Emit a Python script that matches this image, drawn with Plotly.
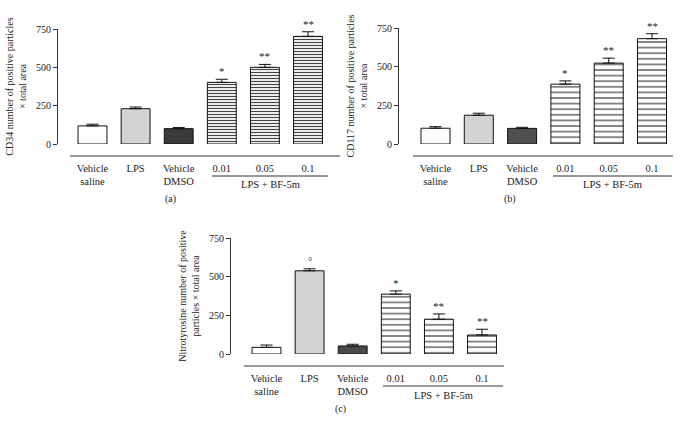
import plotly.graph_objects as go

W, H = 680, 428

# ---- data ----
categories = ["Vehicle<br>saline", "LPS", "Vehicle<br>DMSO", "0.01", "0.05", "0.1"]
cd34 = [118, 230, 100, 402, 500, 702]
cd34_err = [11, 11, 8, 20, 19, 30]
cd117 = [102, 186, 101, 387, 523, 681]
cd117_err = [10, 13, 7, 21, 32, 32]
nitro = [43, 538, 52, 387, 225, 123]
nitro_err = [15, 13, 11, 21, 34, 37]
sig_ab = ["", "", "", "*", "**", "**"]
sig_c = ["", "°", "", "*", "**", "**"]
y_ticks = [0, 250, 500, 750]
group_label = "LPS + BF-5m"

FONT = "Liberation Serif"

def px(x):
    return x / W

def py(y):
    return 1 - y / H

panels = [
    dict(key="", vals=cd34, errs=cd34_err, sig=sig_ab, dmso="#3a3a3a",
         title="CD34 number of positive particles<br>× total area",
         ax=58, right=340, top=29, bottom=144, c0=92.5, sp=43.1, lx=70,
         hatch=3.0, sol=0.4, ulx=(212, 328), tag="(a)", tagx=170),
    dict(key="2", vals=cd117, errs=cd117_err, sig=sig_ab, dmso="#505050",
         title="CD117 number of positive particles<br>× total area",
         ax=399, right=673, top=28, bottom=144, c0=435.5, sp=43.3, lx=413,
         hatch=5.6, sol=0.22, ulx=(553, 672), tag="(b)", tagx=510),
    dict(key="3", vals=nitro, errs=nitro_err, sig=sig_c, dmso="#4a4a4a",
         title="Nitrotyrosine number of positive<br>particles × total area",
         ax=231, right=504, top=238, bottom=354, c0=266.5, sp=43.1, lx=244,
         hatch=5.6, sol=0.22, ulx=(383, 503), tag="(c)", tagx=340),
]

fig = go.Figure()
shapes = []
annotations = []
layout = {}

xs = list(range(len(categories)))

for p in panels:
    xa = "x" + p["key"]
    ya = "y" + p["key"]
    ctrl_x = xs[:3]
    trt_x = xs[3:]
    vals = p["vals"]
    errs = p["errs"]
    # control bars (solid)
    fig.add_trace(go.Bar(
        x=ctrl_x, y=vals[:3], xaxis=xa, yaxis=ya, width=0.67,
        marker=dict(color=["white", "#d3d3d3", p["dmso"]],
                    line=dict(color="#111", width=1)),
        error_y=dict(type="data", array=errs[:3], arrayminus=[0, 0, 0],
                     symmetric=False, color="#111", thickness=1, width=6),
        showlegend=False, hoverinfo="skip"))
    # treatment bars (hatched)
    fig.add_trace(go.Bar(
        x=trt_x, y=vals[3:], xaxis=xa, yaxis=ya, width=0.67,
        marker=dict(color="white", line=dict(color="#111", width=1),
                    pattern=dict(shape="-", size=p["hatch"], solidity=p["sol"],
                                 fgcolor="#444", bgcolor="white")),
        error_y=dict(type="data", array=errs[3:], arrayminus=[0, 0, 0],
                     symmetric=False, color="#111", thickness=1, width=6),
        showlegend=False, hoverinfo="skip"))
    # significance marks
    for i, s in enumerate(p["sig"]):
        if s:
            annotations.append(dict(
                x=xs[i], y=vals[i] + errs[i], xref=xa, yref=ya,
                text=s, showarrow=False, xanchor="center", yanchor="bottom",
                font=dict(family=FONT, size=11, color="#222")))
    x0 = -(p["c0"] - p["ax"]) / p["sp"]
    x1 = x0 + (p["right"] - p["ax"]) / p["sp"]
    layout["xaxis" + p["key"]] = dict(
        domain=[px(p["ax"]), px(p["right"])], anchor=ya, range=[x0, x1],
        tickvals=xs, ticktext=categories, showline=False, ticks="",
        showgrid=False, zeroline=False, ticklabelstandoff=16, automargin=False,
        tickfont=dict(family=FONT, size=10.5, color="#222"))
    layout["yaxis" + p["key"]] = dict(
        domain=[py(p["bottom"]), py(p["top"])], anchor=xa, range=[0, 750],
        tickvals=y_ticks, showline=True, linecolor="#333", linewidth=1,
        ticks="outside", ticklen=4, tickcolor="#333", showgrid=False,
        zeroline=False, automargin=False,
        tickfont=dict(family=FONT, size=10, color="#222"),
        title=dict(text=p["title"], standoff=7,
                   font=dict(family=FONT, size=10, color="#222")))
    # baseline rule under the bars
    shapes.append(dict(type="line", xref="paper", yref="paper",
                       x0=px(p["lx"]), x1=px(p["right"]),
                       y0=py(p["bottom"] + 12), y1=py(p["bottom"] + 12),
                       line=dict(color="#333", width=1)))
    # underline for LPS + BF-5m group
    shapes.append(dict(type="line", xref="paper", yref="paper",
                       x0=px(p["ulx"][0]), x1=px(p["ulx"][1]),
                       y0=py(p["bottom"] + 32), y1=py(p["bottom"] + 32),
                       line=dict(color="#333", width=1)))
    annotations.append(dict(
        x=px((p["ulx"][0] + p["ulx"][1]) / 2), y=py(p["bottom"] + 41),
        xref="paper", yref="paper", text=group_label, showarrow=False,
        xanchor="center", yanchor="middle",
        font=dict(family=FONT, size=10.5, color="#222")))
    annotations.append(dict(
        x=px(p["tagx"]), y=py(p["bottom"] + 55), xref="paper", yref="paper",
        text=p["tag"], showarrow=False, xanchor="center", yanchor="middle",
        font=dict(family=FONT, size=10, color="#222")))

fig.update_layout(
    template="none",
    width=W, height=H, margin=dict(l=0, r=0, t=0, b=0, autoexpand=False),
    paper_bgcolor="white", plot_bgcolor="white",
    barmode="overlay", showlegend=False,
    shapes=shapes, annotations=annotations, **layout)

fig.write_html("out.html", config={"displayModeBar": False},
               post_script="document.body.style.margin='0';"
                           "document.body.style.overflow='hidden';")
